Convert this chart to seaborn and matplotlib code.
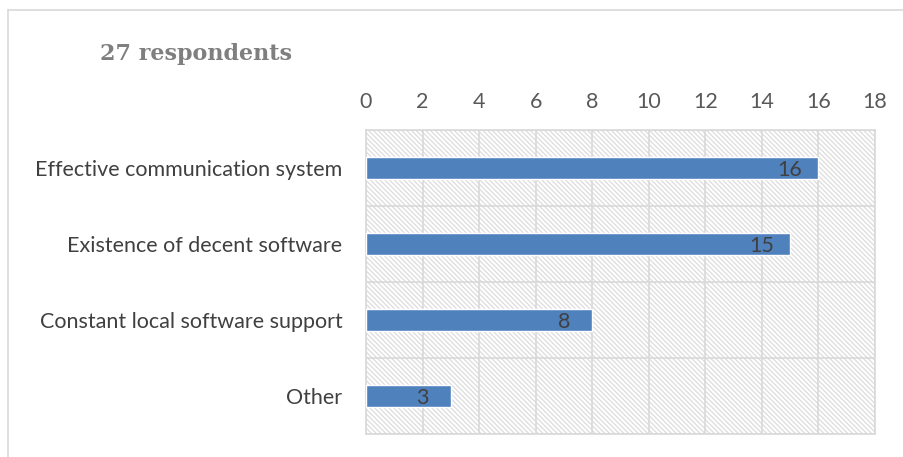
import matplotlib
matplotlib.use("Agg")
import matplotlib.pyplot as plt
from matplotlib.patches import Rectangle
import seaborn as sns
import pandas as pd
import numpy as np

categories = ["Effective communication system", "Existence of decent software",
              "Constant local software support", "Other"]
values = [16, 15, 8, 3]
x_ticks = [0, 2, 4, 6, 8, 10, 12, 14, 16, 18]
title = "27 respondents"

sns.set_theme(style="white")
plt.rcParams['font.family'] = ['Lato', 'DejaVu Sans']
plt.rcParams['hatch.linewidth'] = 0.9

df = pd.DataFrame({"category": categories, "value": values})

fig = plt.figure(figsize=(9.04, 4.57), dpi=100)
ax = fig.add_axes([366/904, 1-434/457, (875-366)/904, (434-130)/457])

# figure border (left + top)
fig.add_artist(plt.Line2D([8/904, 8/904], [0, 1-10/457], color="#d9d9d9", lw=1.2, transform=fig.transFigure))
fig.add_artist(plt.Line2D([8/904, 1], [1-10/457, 1-10/457], color="#d9d9d9", lw=1.2, transform=fig.transFigure))

# hatched plot area
ax.add_patch(Rectangle((0, 0), 1, 1, transform=ax.transAxes, facecolor="white",
                       edgecolor="#dcdcdc", hatch="\\" * 7, lw=0, zorder=0))

sns.barplot(data=df, y="category", x="value", orient="h", color="#4F81BD",
            width=0.29, saturation=1, ax=ax, zorder=3)

ax.set_xlim(0, 18)
ax.set_ylim(3.5, -0.5)
ax.set_xticks(x_ticks)
ax.set_xticklabels([str(t) for t in x_ticks])
ax.xaxis.tick_top()
ax.tick_params(axis="x", length=0, pad=13, labelsize=15.5, labelcolor="#595959")
ax.tick_params(axis="y", which="major", length=0, pad=17, labelsize=15.5, labelcolor="#404040")
ax.set_yticks(np.arange(-0.5, 4.0, 1.0), minor=True)
ax.tick_params(axis="y", which="minor", length=5.8, width=1.2, color="#d9d9d9")
ax.set_xlabel("")
ax.set_ylabel("")

ax.grid(True, axis="x", which="major", color="#d9d9d9", lw=1.2, zorder=1)
ax.grid(True, axis="y", which="minor", color="#d9d9d9", lw=1.2, zorder=1)
ax.grid(False, axis="y", which="major")
for s in ax.spines.values():
    s.set_color("#d9d9d9")
    s.set_linewidth(1.2)

for i, v in enumerate(values):
    ax.text(v - 1.0, i + 0.03, str(v), ha="center", va="center", fontsize=15.5,
            color="#404040", zorder=5)

fig.text(100/904, 1-54/457, title, fontsize=16, fontweight="bold",
         color="#7f7f7f", family=["DejaVu Serif"], va="center", ha="left")

fig.savefig("out.png", dpi=100)
